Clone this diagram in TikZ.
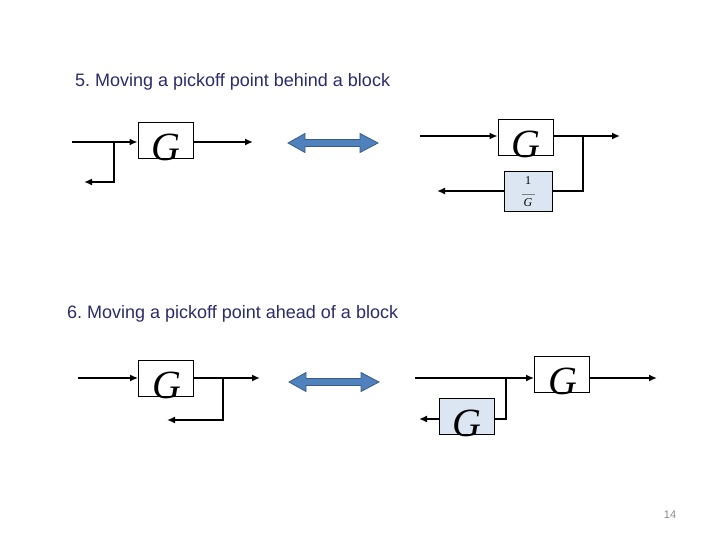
\documentclass[tikz,border=0pt]{standalone}
\usepackage{fontspec}
\setmainfont{Liberation Sans}
\newfontfamily\gserif{Liberation Serif}
\usetikzlibrary{arrows.meta}
\frenchspacing
\definecolor{titlecol}{HTML}{2B2B6B}
\definecolor{boxblue}{HTML}{DCE6F2}
\definecolor{arrfill}{HTML}{4F81BD}
\definecolor{arrline}{HTML}{385D8A}
\definecolor{pagegray}{HTML}{8A8A8A}
\tikzset{
  sig/.style={line width=1.8pt, -{Latex[length=8pt,width=7pt]}},
  wire/.style={line width=1.8pt},
  blk/.style={draw=black, line width=0.8pt, rectangle, inner sep=0pt, minimum width=55pt, minimum height=36pt},
  blkblue/.style={blk, fill=boxblue},
  gsym/.style={font=\gserif\itshape\fontsize{40}{40}\selectfont, inner sep=0pt},
  title/.style={font=\fontsize{18}{20}\selectfont, text=titlecol, anchor=base west, inner sep=0pt},
  arrowshape/.style={fill=arrfill, draw=arrline, line width=0.8pt},
  dblarrow/.pic={\draw[arrowshape] (-45,0) -- (-28,-9.5) -- (-28,-3.5) -- (27,-3.5) -- (27,-9.5) -- (45,0) -- (27,9.5) -- (27,3.5) -- (-28,3.5) -- (-28,9.5) -- cycle;}
}
\begin{document}
\begin{tikzpicture}[x=1pt,y=-1pt]
\useasboundingbox (0,0) rectangle (720,540);

% titles
\node[title] (t5) at (75,87) {5. Moving a pickoff point behind a block};
\node[title] (t6) at (67,318.5) {6. Moving a pickoff point ahead of a block};
\node[font=\fontsize{11}{12}\selectfont, text=pagegray, anchor=base, inner sep=0pt] (pg) at (670,518) {14};

% ---------- 5 left ----------
\node[blk] (g1) at (165.5,140) {};
\node[gsym] (g1t) at (166,147) {G};
\coordinate (in1) at (72,142);
\coordinate (p1) at (114,142);
\coordinate (out1) at (253,142);
\coordinate (f1) at (84,182);
\draw[sig] (in1) -- (in1 -| g1.west);
\draw[sig] (in1 -| g1.east) -- (out1);
\draw[sig] (p1) |- (f1);

\pic at (333,143) {dblarrow};

% ---------- 5 right ----------
\node[blk] (g2) at (525.5,137) {};
\node[gsym] (g2t) at (526,144) {G};
\node[blkblue, minimum width=48pt, minimum height=40pt] (h1) at (528,191) {};
\node[font=\gserif\fontsize{12}{13}\selectfont, align=center, inner sep=0pt] (h1t) at (528,192)
  {1\\[-3pt]\textcolor{gray}{\rule{13pt}{0.5pt}}\\[-1pt]\textit{G}};
\coordinate (in2) at (420,136);
\coordinate (p2) at (583,136);
\coordinate (out2) at (620,136);
\coordinate (c2) at (583,191);
\coordinate (f2) at (437,191);
\draw[sig] (in2) -- (in2 -| g2.west);
\draw[sig] (in2 -| g2.east) -- (out2);
\draw[wire] (p2) -- (c2) -- (h1.east);
\draw[sig] (h1.west) -- (f2);

% ---------- 6 left ----------
\node[blk] (g3) at (166,378.5) {};
\node[gsym] (g3t) at (167,385.5) {G};
\coordinate (in3) at (78,378);
\coordinate (p3) at (223,378);
\coordinate (out3) at (260,378);
\coordinate (f3) at (167,420);
\draw[sig] (in3) -- (in3 -| g3.west);
\draw[sig] (in3 -| g3.east) -- (out3);
\draw[sig] (p3) |- (f3);

\pic at (334,382) {dblarrow};

% ---------- 6 right ----------
\node[blk] (g4) at (562,374) {};
\node[gsym] (g4t) at (563,381) {G};
\node[blkblue] (g5) at (466.5,416) {};
\node[gsym] (g5t) at (467,423) {G};
\coordinate (in4) at (415,378);
\coordinate (p4) at (506,378);
\coordinate (out4) at (657,378);
\coordinate (c4) at (506,419);
\coordinate (f4) at (419,419);
\draw[sig] (in4) -- (in4 -| g4.west);
\draw[sig] (in4 -| g4.east) -- (out4);
\draw[wire] (p4) -- (c4) -- (c4 -| g5.east);
\draw[sig] (c4 -| g5.west) -- (f4);
\end{tikzpicture}
\end{document}
